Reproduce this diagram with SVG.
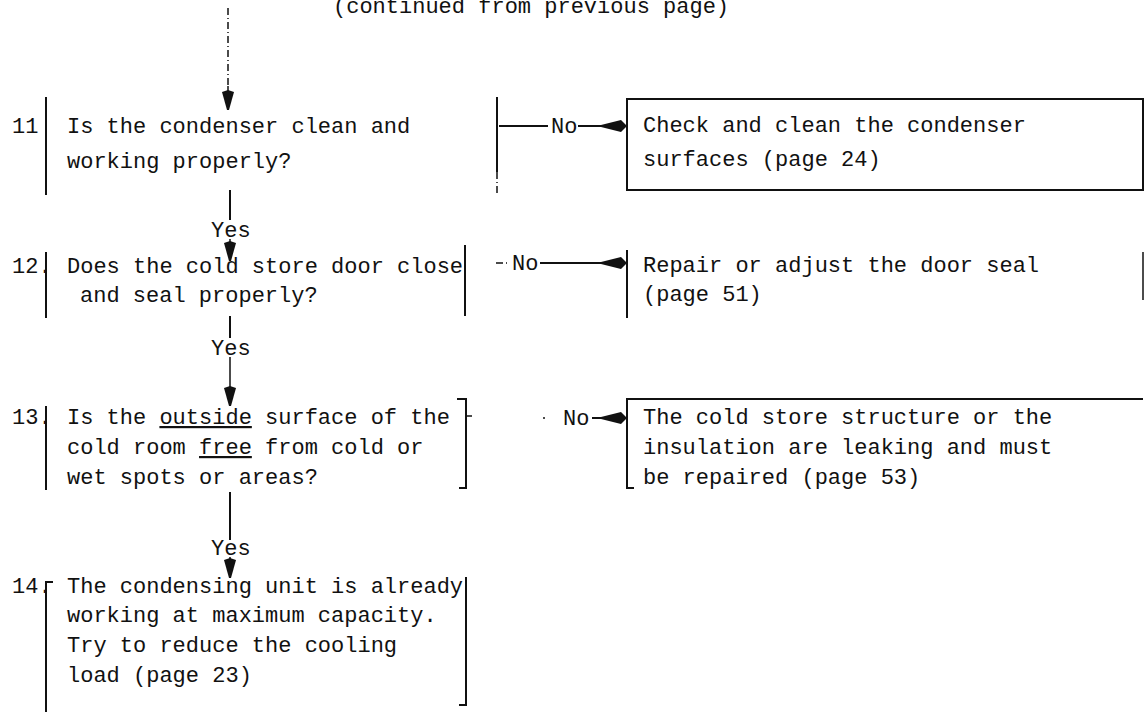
<svg xmlns="http://www.w3.org/2000/svg" width="1146" height="712" viewBox="0 0 1146 712">
  <style>
    text { font-family: "Liberation Mono", "DejaVu Sans Mono", monospace; font-size: 22px; fill: #111; }
    .ln { stroke: #111; stroke-width: 2; fill: none; }
    .thin { stroke: #111; stroke-width: 1.5; fill: none; }
    .dash { stroke: #111; stroke-width: 1.5; fill: none; stroke-dasharray: 7 3 1 3; }
  </style>
  <defs>
    <!-- right-pointing dart used on the "No" branches -->
    <marker id="head" viewBox="0 0 26 12" refX="26" refY="6" markerWidth="26" markerHeight="12" markerUnits="userSpaceOnUse" orient="auto">
      <path d="M0,5 L20,0 L26,6 L20,12 L0,7 Z" fill="#111"/>
    </marker>
    <!-- downward head used on the "Yes" branches -->
    <marker id="headDown" viewBox="0 0 12 20" refX="6" refY="20" markerWidth="12" markerHeight="20" markerUnits="userSpaceOnUse" orient="0">
      <path d="M0,2 L6,0 L12,2 L7,20 L5,20 Z" fill="#111"/>
    </marker>
  </defs>

  <text x="333" y="13">(continued from previous page)</text>

  <!-- connectors -->
  <g id="connectors">
    <line class="dash" x1="228" y1="8" x2="228" y2="86"/>
    <line class="thin" x1="228" y1="86" x2="228" y2="110" marker-end="url(#headDown)"/>

    <line class="ln" x1="499" y1="126" x2="548" y2="126"/>
    <text x="551" y="133">No</text>
    <line class="ln" x1="578" y1="126" x2="627" y2="126" marker-end="url(#head)"/>

    <line class="ln" x1="230" y1="190" x2="230" y2="220"/>
    <text x="211" y="237">Yes</text>
    <line class="thin" x1="230" y1="239" x2="230" y2="261" marker-end="url(#headDown)"/>

    <line class="dash" x1="496" y1="263" x2="509" y2="263"/>
    <text x="512" y="270">No</text>
    <line class="ln" x1="540" y1="263" x2="627" y2="263" marker-end="url(#head)"/>

    <line class="ln" x1="230" y1="316" x2="230" y2="338"/>
    <text x="211" y="355">Yes</text>
    <line class="thin" x1="230" y1="357" x2="230" y2="406" marker-end="url(#headDown)"/>

    <line class="thin" x1="543" y1="418" x2="545" y2="418"/>
    <text x="563" y="425">No</text>
    <line class="ln" x1="592" y1="418" x2="627" y2="418" marker-end="url(#head)"/>

    <line class="ln" x1="230" y1="492" x2="230" y2="540"/>
    <text x="211" y="555">Yes</text>
    <line class="thin" x1="230" y1="557" x2="230" y2="578" marker-end="url(#headDown)"/>
  </g>

  <!-- step 11 -->
  <g id="q11">
    <text x="12" y="133">11</text>
    <line class="ln" x1="46" y1="97" x2="46" y2="195"/>
    <text x="67" y="133">Is the condenser clean and</text>
    <text x="67" y="168">working properly?</text>
    <line class="ln" x1="497" y1="97" x2="497" y2="172"/>
    <line class="dash" x1="497" y1="172" x2="497" y2="195"/>
  </g>
  <g id="a11">
    <rect class="ln" x="627" y="99" width="516" height="91"/>
    <text x="643" y="132">Check and clean the condenser</text>
    <text x="643" y="166">surfaces (page 24)</text>
  </g>

  <!-- step 12 -->
  <g id="q12">
    <text x="12" y="273">12.</text>
    <line class="ln" x1="46" y1="252" x2="46" y2="318"/>
    <text x="67" y="273">Does the cold store door close</text>
    <text x="80" y="302">and seal properly?</text>
    <line class="ln" x1="465" y1="245" x2="465" y2="316"/>
  </g>
  <g id="a12">
    <line class="ln" x1="627" y1="250" x2="627" y2="318"/>
    <text x="643" y="272">Repair or adjust the door seal</text>
    <text x="643" y="301">(page 51)</text>
    <line class="thin" x1="1143" y1="252" x2="1143" y2="300"/>
  </g>

  <!-- step 13 -->
  <g id="q13">
    <text x="12" y="424">13.</text>
    <line class="ln" x1="46" y1="406" x2="46" y2="490"/>
    <text x="67" y="424">Is the <tspan text-decoration="underline">outside</tspan> surface of the</text>
    <text x="67" y="454">cold room <tspan text-decoration="underline">free</tspan> from cold or</text>
    <text x="67" y="484">wet spots or areas?</text>
    <path class="ln" d="M457,399 H466 V488 H459"/>
    <line class="thin" x1="466" y1="416" x2="472" y2="416"/>
  </g>
  <g id="a13">
    <path class="ln" d="M1143,399 H627 V488 H634"/>
    <text x="643" y="424">The cold store structure or the</text>
    <text x="643" y="454">insulation are leaking and must</text>
    <text x="643" y="484">be repaired (page 53)</text>
  </g>

  <!-- step 14 -->
  <g id="r14">
    <text x="12" y="593">14.</text>
    <path class="ln" d="M53,582 H46 V712"/>
    <text x="67" y="593">The condensing unit is already</text>
    <text x="67" y="622">working at maximum capacity.</text>
    <text x="67" y="652">Try to reduce the cooling</text>
    <text x="67" y="682">load (page 23)</text>
    <path class="ln" d="M466,577 V705 H459"/>
  </g>
</svg>
